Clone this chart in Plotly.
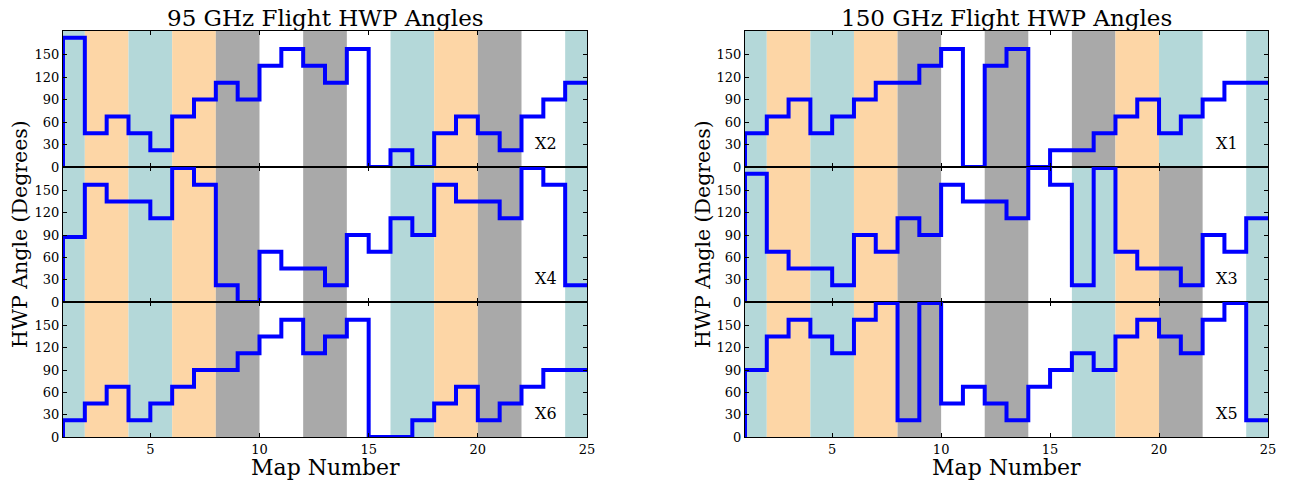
import plotly.graph_objects as go

# ---------------- data ----------------
maps = list(range(1, 26))          # map boundaries 1..25
band_starts = list(range(0, 26, 2))

# HWP angle (degrees) for maps 1..24
x2 = [172.5, 45, 67.5, 45, 22.5, 67.5, 90, 112.5, 90, 135, 157.5, 135,
      112.5, 157.5, 0, 22.5, 0, 45, 67.5, 45, 22.5, 67.5, 90, 112.5]
x4 = [87.5, 157.5, 135, 135, 112.5, 180, 157.5, 22.5, 0, 67.5, 45, 45,
      22.5, 90, 67.5, 112.5, 90, 157.5, 135, 135, 112.5, 180, 157.5, 22.5]
x6 = [22.5, 45, 67.5, 22.5, 45, 67.5, 90, 90, 112.5, 135, 157.5, 112.5,
      135, 157.5, 0, 0, 22.5, 45, 67.5, 22.5, 45, 67.5, 90, 90]
x1 = [45, 67.5, 90, 45, 67.5, 90, 112.5, 112.5, 135, 157.5, 0, 135,
      157.5, 0, 22.5, 22.5, 45, 67.5, 90, 45, 67.5, 90, 112.5, 112.5]
x3 = [172.5, 67.5, 45, 45, 22.5, 90, 67.5, 112.5, 90, 157.5, 135, 135,
      112.5, 180, 157.5, 22.5, 180, 67.5, 45, 45, 22.5, 90, 67.5, 112.5]
x5 = [90, 135, 157.5, 135, 112.5, 157.5, 180, 22.5, 180, 45, 67.5, 45,
      22.5, 67.5, 90, 112.5, 90, 135, 157.5, 135, 112.5, 157.5, 180, 22.5]

bands_std = ["teal", "peach", "teal", "peach", "gray", "white", "gray",
             "white", "teal", "peach", "gray", "white", "teal"]
bands_x1 = ["teal", "peach", "teal", "peach", "gray", "white", "gray",
            "white", "gray", "peach", "teal", "white", "teal"]

labels = ["X2", "X4", "X6", "X1", "X3", "X5"]
titles = ["95 GHz Flight HWP Angles", "150 GHz Flight HWP Angles"]
yticks = [0, 30, 60, 90, 120, 150]
xticks = [5, 10, 15, 20, 25]

# ---------------- style ----------------
W, H = 1292, 485
FONT = "DejaVu Serif"
band_colors = {"teal": "#b4d8d9", "peach": "#fdd6a6", "gray": "#a9a9a9"}
col_px = [(63, 587), (745, 1268)]
row_px = [(31, 167), (167, 302), (302, 437)]


def px(v):
    return v / W


def py(v):
    return 1 - v / H


panels = [
    (x2, bands_std, 0, 0), (x4, bands_std, 0, 1), (x6, bands_std, 0, 2),
    (x1, bands_x1, 1, 0), (x3, bands_std, 1, 1), (x5, bands_std, 1, 2),
]

fig = go.Figure()
layout = {}
for i, (ang, bands, c, r) in enumerate(panels):
    n = i + 1
    xa = "x" if n == 1 else f"x{n}"
    ya = "y" if n == 1 else f"y{n}"
    xk = "xaxis" if n == 1 else f"xaxis{n}"
    yk = "yaxis" if n == 1 else f"yaxis{n}"
    fig.add_trace(go.Scatter(
        x=maps, y=[0] + ang, mode="lines",
        line=dict(color="#0000ff", width=4, shape="vh"),
        xaxis=xa, yaxis=ya, showlegend=False, hoverinfo="skip"))
    for s, b in zip(band_starts, bands):
        if b == "white":
            continue
        fig.add_shape(type="rect", xref=xa, yref=f"{ya} domain",
                      x0=max(s, maps[0]), x1=min(s + 2, maps[-1]), y0=0, y1=1,
                      fillcolor=band_colors[b], line_width=0, layer="below")
    x0p, x1p = col_px[c]
    y0p, y1p = row_px[r]
    layout[xk] = dict(
        domain=[px(x0p), px(x1p)], anchor=ya, range=[maps[0], maps[-1]],
        tickvals=xticks, showticklabels=(r == 2), ticks="inside", ticklen=4,
        tickcolor="black", mirror="allticks", showline=True, linecolor="black",
        linewidth=1, showgrid=False, zeroline=False, automargin=False,
        tickfont=dict(family=FONT, size=13, color="black"))
    layout[yk] = dict(
        domain=[py(y1p), py(y0p)], anchor=xa, range=[0, 181.5],
        tickvals=yticks, ticks="inside", ticklen=4, tickcolor="black",
        mirror="allticks", showline=True, linecolor="black", linewidth=1,
        showgrid=False, zeroline=False, automargin=False,
        tickfont=dict(family=FONT, size=13, color="black"))
    fig.add_annotation(x=23.1, y=32, xref=xa, yref=ya, text=labels[i],
                       xanchor="center", yanchor="middle",
                       showarrow=False, font=dict(family=FONT, size=16, color="black"))

for c in range(2):
    x0p, x1p = col_px[c]
    xc = px((x0p + x1p) / 2)
    fig.add_annotation(x=xc, y=py(18), xref="paper", yref="paper",
                       xanchor="center", yanchor="middle",
                       text=titles[c], showarrow=False,
                       font=dict(family=FONT, size=23, color="black"))
    fig.add_annotation(x=xc, y=py(467), xref="paper", yref="paper",
                       xanchor="center", yanchor="middle",
                       text="Map Number", showarrow=False,
                       font=dict(family=FONT, size=22, color="black"))
    fig.add_annotation(x=px(20 if c == 0 else 703), y=py(234),
                       xref="paper", yref="paper", text="HWP Angle (Degrees)",
                       xanchor="center", yanchor="middle",
                       textangle=-90, showarrow=False,
                       font=dict(family=FONT, size=20.5, color="black"))

fig.update_layout(
    width=W, height=H, margin=dict(l=0, r=0, t=0, b=0),
    template="none", hovermode=False,
    paper_bgcolor="white", plot_bgcolor="white",
    font=dict(family=FONT, color="black"), **layout)

fig.write_html(
    "out.html",
    config={"displayModeBar": False, "staticPlot": True},
    post_script="document.body.style.margin='0px';"
                "document.body.style.padding='0px';"
                "document.body.style.overflow='hidden';")
